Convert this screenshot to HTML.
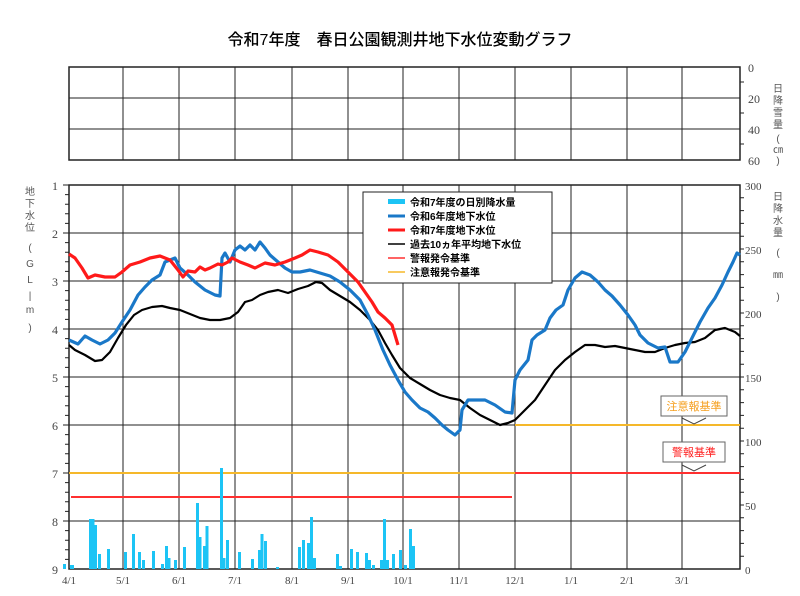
<!DOCTYPE html>
<html><head><meta charset="utf-8"><style>
html,body{margin:0;padding:0;background:#fff;}
svg{display:block;font-family:"Liberation Serif","Noto Serif CJK SC",serif;}
.j{font-family:"Liberation Sans","Noto Sans CJK JP",sans-serif;}
</style></head><body>
<svg width="800" height="596" viewBox="0 0 800 596" xmlns="http://www.w3.org/2000/svg">
<text x="400" y="45" text-anchor="middle" font-size="16" font-weight="500" class="j" fill="#000">令和7年度　春日公園観測井地下水位変動グラフ</text>
<g stroke="#222" stroke-width="1" fill="none">
<rect x="69" y="67" width="671" height="93" stroke-width="1.5"/>
<line x1="69" y1="98" x2="740" y2="98"/><line x1="69" y1="129" x2="740" y2="129"/>
<path d="M123 67V160M179 67V160M235 67V160M292 67V160M348 67V160M403 67V160M459 67V160M515 67V160M571 67V160M627 67V160M682 67V160"/>
<path d="M740 82h4M740 113h4M740 144h4"/>
</g>
<g font-size="12" fill="#444">
<text x="748" y="72">0</text><text x="748" y="103">20</text><text x="748" y="134">40</text><text x="748" y="165">60</text>
</g>
<g font-size="10" fill="#555" class="j" text-anchor="middle">
<text x="778" y="92">日</text><text x="778" y="104">降</text><text x="778" y="116">雪</text><text x="778" y="128">量</text><text x="778" y="142">(</text><text x="778" y="153">㎝</text><text x="778" y="164">)</text>
<text x="778" y="200">日</text><text x="778" y="212">降</text><text x="778" y="224">水</text><text x="778" y="236">量</text><text x="778" y="256">(</text><text x="778" y="278">㎜</text><text x="778" y="300">)</text>
<text x="30" y="195">地</text><text x="30" y="207">下</text><text x="30" y="219">水</text><text x="30" y="231">位</text><text x="30" y="251">(</text><text x="30" y="267">G</text><text x="30" y="283">L</text><text x="30" y="299">|</text><text x="30" y="313">m</text><text x="30" y="331">)</text>
</g>
<g stroke="#222" stroke-width="1" fill="none">
<path d="M69 233H740M69 281H740M69 329H740M69 377H740M69 425H740M69 473H740M69 521H740"/>
<path d="M123 185V569M179 185V569M235 185V569M292 185V569M348 185V569M403 185V569M459 185V569M515 185V569M571 185V569M627 185V569M682 185V569"/>
<rect x="69" y="185" width="671" height="384" stroke-width="1.5"/>
</g>
<g font-size="12" fill="#444" text-anchor="end">
<text x="58" y="190">1</text><text x="58" y="238">2</text><text x="58" y="286">3</text><text x="58" y="334">4</text><text x="58" y="382">5</text><text x="58" y="430">6</text><text x="58" y="478">7</text><text x="58" y="526">8</text><text x="58" y="574">9</text>
</g>
<g font-size="11" fill="#444">
<text x="745" y="190">300</text><text x="745" y="254">250</text><text x="745" y="318">200</text><text x="745" y="382">150</text><text x="745" y="446">100</text><text x="745" y="510">50</text><text x="745" y="574">0</text>
</g>
<g font-size="11" fill="#444" text-anchor="middle">
<text x="69" y="584">4/1</text><text x="123" y="584">5/1</text><text x="179" y="584">6/1</text><text x="235" y="584">7/1</text><text x="292" y="584">8/1</text><text x="348" y="584">9/1</text><text x="403" y="584">10/1</text><text x="459" y="584">11/1</text><text x="515" y="584">12/1</text><text x="571" y="584">1/1</text><text x="627" y="584">2/1</text><text x="682" y="584">3/1</text>
</g>
<path stroke="#222" stroke-width="1" d="M69 194.6h-4M69 204.2h-4M69 213.8h-4M69 223.4h-4M69 242.6h-4M69 252.2h-4M69 261.8h-4M69 271.4h-4M69 290.6h-4M69 300.2h-4M69 309.8h-4M69 319.4h-4M69 338.6h-4M69 348.2h-4M69 357.8h-4M69 367.4h-4M69 386.6h-4M69 396.2h-4M69 405.8h-4M69 415.4h-4M69 434.6h-4M69 444.2h-4M69 453.8h-4M69 463.4h-4M69 482.6h-4M69 492.2h-4M69 501.8h-4M69 511.4h-4M69 530.6h-4M69 540.2h-4M69 549.8h-4M69 559.4h-4M69 185h-6M69 233h-6M69 281h-6M69 329h-6M69 377h-6M69 425h-6M69 473h-6M69 521h-6
M740 197.8h4M740 210.6h4M740 223.4h4M740 236.2h4M740 249h4M740 261.8h4M740 274.6h4M740 287.4h4M740 300.2h4M740 313h4M740 325.8h4M740 338.6h4M740 351.4h4M740 364.2h4M740 377h4M740 389.8h4M740 402.6h4M740 415.4h4M740 428.2h4M740 441h4M740 453.8h4M740 466.6h4M740 479.4h4M740 492.2h4M740 505h4M740 517.8h4M740 530.6h4M740 543.4h4M740 556.2h4"/>
<path d="M69 473H515M515 425H740" stroke="#f5b82a" stroke-width="2" fill="none"/>
<path d="M71 497H512M515 473H740" stroke="#ff3030" stroke-width="2" fill="none"/>
<g fill="#1cc4f5">
<rect x="63" y="564" width="3" height="5"/><rect x="70" y="565" width="4" height="4"/><rect x="89" y="519" width="3" height="50"/><rect x="91.5" y="519" width="3" height="50"/><rect x="94" y="525" width="3" height="44"/><rect x="98" y="554" width="3" height="15"/><rect x="107" y="549" width="3" height="20"/><rect x="124" y="552" width="3" height="17"/><rect x="132" y="534" width="3" height="35"/><rect x="138" y="552" width="3" height="17"/><rect x="142" y="560" width="3" height="9"/><rect x="152" y="551" width="3" height="18"/><rect x="161" y="564" width="3" height="5"/><rect x="165" y="546" width="3" height="23"/><rect x="167.5" y="558" width="3" height="11"/><rect x="174" y="560" width="3" height="9"/><rect x="183" y="547" width="3" height="22"/><rect x="196" y="503" width="3" height="66"/><rect x="198.5" y="537" width="3" height="32"/><rect x="203" y="546" width="3" height="23"/><rect x="205.5" y="526" width="3" height="43"/><rect x="220" y="468" width="3" height="101"/><rect x="222.5" y="558" width="3" height="11"/><rect x="226" y="540" width="3" height="29"/><rect x="238" y="552" width="3" height="17"/><rect x="251" y="559" width="3" height="10"/><rect x="258" y="550" width="3" height="19"/><rect x="260.5" y="534" width="3" height="35"/><rect x="264" y="541" width="3" height="28"/><rect x="276" y="567" width="3" height="2"/><rect x="298" y="547" width="3" height="22"/><rect x="302" y="540" width="3" height="29"/><rect x="307" y="543" width="3" height="26"/><rect x="310" y="517" width="3" height="52"/><rect x="313" y="558" width="3" height="11"/><rect x="336" y="554" width="3" height="15"/><rect x="339" y="566" width="3" height="3"/><rect x="350" y="549" width="3" height="20"/><rect x="356" y="552" width="3" height="17"/><rect x="365" y="553" width="3" height="16"/><rect x="368" y="560" width="3" height="9"/><rect x="372" y="565" width="3" height="4"/><rect x="380" y="560" width="3" height="9"/><rect x="383" y="519" width="3" height="50"/><rect x="386" y="560" width="3" height="9"/><rect x="392" y="554" width="3" height="15"/><rect x="399" y="550" width="3" height="19"/><rect x="404" y="565" width="3" height="4"/><rect x="409" y="529" width="3" height="40"/><rect x="412" y="546" width="3" height="23"/>
</g>
<polyline fill="none" stroke="#000" stroke-width="2.2" stroke-linejoin="round" points="69,345 75,350 85,355 95,361 102,360 110,352 118,338 126,325 134,315 142,310 152,307 162,306 170,308 180,310 190,314 200,318 210,320 220,320 230,318 238,312 245,302 252,300 260,295 268,292 278,290 288,293 298,289 308,286 316,282 322,283 330,290 340,296 350,302 360,310 370,320 378,330 385,343 392,355 400,368 410,378 420,384 430,390 440,395 450,398 460,400 470,408 480,415 490,420 500,425 508,423 515,420 525,410 535,400 545,385 555,370 565,360 575,352 585,345 595,345 605,347 615,346 625,348 635,350 645,352 655,352 665,348 675,345 685,343 695,342 705,338 715,330 725,328 735,332 740,336"/>
<polyline fill="none" stroke="#1a78c8" stroke-width="3.2" stroke-linejoin="round" points="69,340 78,344 85,336 92,340 100,344 108,340 115,333 122,322 130,310 138,295 145,287 152,280 160,275 165,262 170,260 175,258 180,268 188,275 195,282 205,290 215,295 220,296 222,258 225,253 230,262 235,250 240,246 245,250 250,245 255,250 260,242 265,248 270,255 278,262 285,268 292,272 300,272 310,270 320,273 330,276 340,282 350,290 360,300 368,315 375,330 383,350 390,365 398,380 405,392 412,400 420,408 428,412 435,418 442,425 448,430 455,435 460,430 462,410 468,400 475,400 485,400 495,405 505,412 512,413 515,380 520,370 528,360 532,340 537,335 545,330 550,318 556,310 563,305 568,290 575,278 582,272 590,275 598,282 605,290 612,296 620,305 628,315 635,325 640,335 648,343 652,345 658,348 665,347 670,362 678,362 685,352 692,338 700,322 708,308 715,298 722,285 728,272 733,262 737,253 740,255"/>
<polyline fill="none" stroke="#ff1a1a" stroke-width="3.2" stroke-linejoin="round" points="69,254 75,258 82,268 88,278 95,275 105,277 115,277 122,272 130,265 140,262 150,258 160,256 170,260 178,270 183,277 188,271 195,272 200,267 205,270 210,268 218,264 222,265 228,262 232,258 240,262 248,265 255,268 265,263 275,265 285,262 295,258 302,255 310,250 318,252 328,255 338,262 348,272 358,282 365,292 372,302 378,312 385,318 392,325 398,345"/>
<rect x="363" y="192" width="189" height="91" fill="#fff" stroke="#222" stroke-width="1"/>
<g stroke-width="3">
<rect x="388" y="199" width="17" height="5" fill="#1cc4f5"/>
<line x1="388" y1="216" x2="405" y2="216" stroke="#1a78c8"/>
<line x1="388" y1="230" x2="405" y2="230" stroke="#ff1a1a"/>
<line x1="388" y1="244" x2="405" y2="244" stroke="#000" stroke-width="1.5"/>
<line x1="388" y1="258" x2="405" y2="258" stroke="#ff3030" stroke-width="1.5"/>
<line x1="388" y1="272" x2="405" y2="272" stroke="#f5b82a" stroke-width="1.5"/>
</g>
<g font-size="10" class="j" font-weight="bold" fill="#000">
<text x="410" y="206">令和7年度の日別降水量</text>
<text x="410" y="220">令和6年度地下水位</text>
<text x="410" y="234">令和7年度地下水位</text>
<text x="410" y="248">過去10ヵ年平均地下水位</text>
<text x="410" y="262">警報発令基準</text>
<text x="410" y="276">注意報発令基準</text>
</g>
<rect x="661" y="396" width="66" height="20" fill="#fff" stroke="#666" stroke-width="1"/>
<text x="694" y="410" text-anchor="middle" font-size="11" class="j" fill="#f5a020">注意報基準</text>
<path d="M682 418l12 6 12-6" fill="none" stroke="#444" stroke-width="1"/>
<rect x="663" y="442" width="62" height="20" fill="#fff" stroke="#666" stroke-width="1"/>
<text x="694" y="456" text-anchor="middle" font-size="11" class="j" fill="#ff2020">警報基準</text>
<path d="M682 465l12 6 12-6" fill="none" stroke="#444" stroke-width="1"/>
</svg>
</body></html>
